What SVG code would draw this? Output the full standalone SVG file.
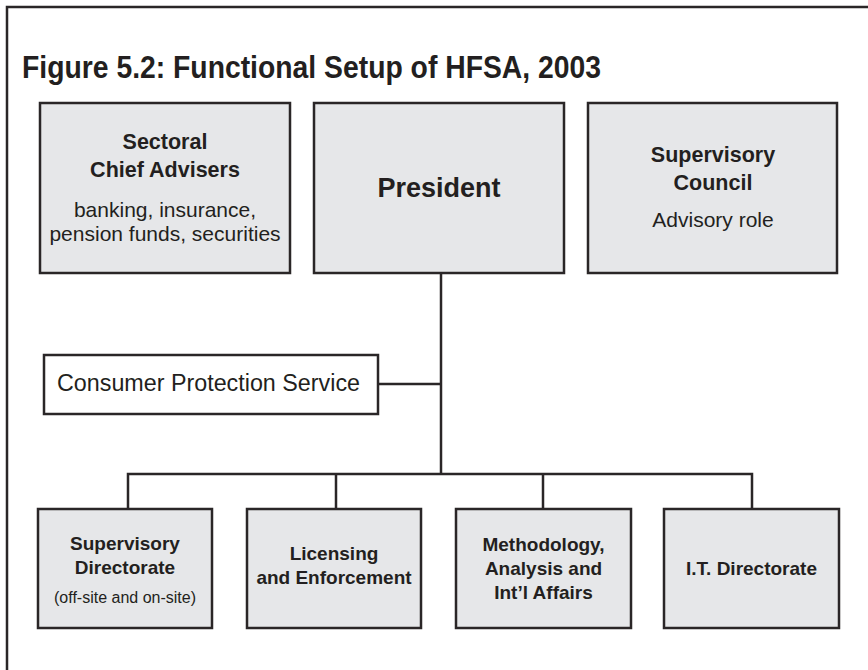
<svg xmlns="http://www.w3.org/2000/svg" width="868" height="670" viewBox="0 0 868 670">
  <style>
    .frame { fill: none; stroke: #2a2627; stroke-width: 2.5; }
    .box { fill: #e6e7e9; stroke: #2a2627; stroke-width: 2.5; }
    .plain { fill: #ffffff; stroke: #2a2627; stroke-width: 2.5; }
    .link { fill: none; stroke: #2a2627; stroke-width: 2.5; }
    text { fill: #231f20; font-family: "Liberation Sans", Arial, sans-serif; }
    .title { font-size: 31px; font-weight: bold; }
    .head { font-size: 21.5px; font-weight: bold; text-anchor: middle; }
    .big { font-size: 27px; font-weight: bold; text-anchor: middle; }
    .note { font-size: 21px; text-anchor: middle; }
    .sub { font-size: 19px; font-weight: bold; text-anchor: middle; }
    .small { font-size: 16px; text-anchor: middle; }
  </style>

  <rect width="868" height="670" fill="#ffffff"/>
  <!-- open frame: left and top edges run off the page -->
  <path class="frame" d="M7,680 V7 H880"/>

  <text class="title" x="22" y="78" textLength="579" lengthAdjust="spacingAndGlyphs">Figure 5.2: Functional Setup of HFSA, 2003</text>

  <g id="connectors">
    <line class="link" x1="441" y1="273" x2="441" y2="474"/>
    <line class="link" x1="378" y1="384" x2="441" y2="384"/>
    <polyline class="link" points="128,509 128,474 752,474 752,509"/>
    <line class="link" x1="336" y1="474" x2="336" y2="509"/>
    <line class="link" x1="543" y1="474" x2="543" y2="509"/>
  </g>

  <g id="sectoral">
    <rect class="box" x="40" y="103" width="250" height="170"/>
    <text class="head" x="165" y="149">Sectoral</text>
    <text class="head" x="165" y="177">Chief Advisers</text>
    <text class="note" x="165" y="217">banking, insurance,</text>
    <text class="note" x="165" y="241">pension funds, securities</text>
  </g>

  <g id="president">
    <rect class="box" x="314" y="103" width="250" height="170"/>
    <text class="big" x="439" y="197">President</text>
  </g>

  <g id="council">
    <rect class="box" x="588" y="103" width="249" height="170"/>
    <text class="head" x="713" y="162">Supervisory</text>
    <text class="head" x="713" y="190">Council</text>
    <text class="note" x="713" y="227">Advisory role</text>
  </g>

  <g id="consumer">
    <rect class="plain" x="44" y="355" width="334" height="59"/>
    <text x="57" y="391" font-size="23.3">Consumer Protection Service</text>
  </g>

  <g id="supervisory-directorate">
    <rect class="box" x="38" y="509" width="174" height="119"/>
    <text class="sub" x="125" y="550">Supervisory</text>
    <text class="sub" x="125" y="574">Directorate</text>
    <text class="small" x="125" y="603">(off-site and on-site)</text>
  </g>

  <g id="licensing">
    <rect class="box" x="247" y="509" width="174" height="119"/>
    <text class="sub" x="334" y="560">Licensing</text>
    <text class="sub" x="334" y="584">and Enforcement</text>
  </g>

  <g id="methodology">
    <rect class="box" x="456" y="509" width="175" height="119"/>
    <text class="sub" x="543.5" y="551">Methodology,</text>
    <text class="sub" x="543.5" y="575">Analysis and</text>
    <text class="sub" x="543.5" y="599">Int’l Affairs</text>
  </g>

  <g id="it-directorate">
    <rect class="box" x="664" y="509" width="175" height="119"/>
    <text class="sub" x="751.5" y="575">I.T. Directorate</text>
  </g>
</svg>
